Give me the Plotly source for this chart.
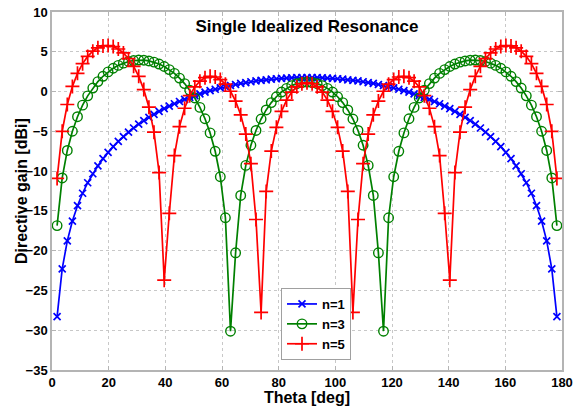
import plotly.graph_objects as go

# Theta samples [deg]
theta = [1.8, 3.6, 5.4, 7.2, 9.0, 10.8, 12.6, 14.4, 16.2, 18.0,
         19.8, 21.6, 23.4, 25.2, 27.0, 28.8, 30.6, 32.4, 34.2, 36.0,
         37.8, 39.6, 41.4, 43.2, 45.0, 46.8, 48.6, 50.4, 52.2, 54.0,
         55.8, 57.6, 59.4, 61.2, 63.0, 64.8, 66.6, 68.4, 70.2, 72.0,
         73.8, 75.6, 77.4, 79.2, 81.0, 82.8, 84.6, 86.4, 88.2, 90.0,
         91.8, 93.6, 95.4, 97.2, 99.0, 100.8, 102.6, 104.4, 106.2, 108.0,
         109.8, 111.6, 113.4, 115.2, 117.0, 118.8, 120.6, 122.4, 124.2, 126.0,
         127.8, 129.6, 131.4, 133.2, 135.0, 136.8, 138.6, 140.4, 142.2, 144.0,
         145.8, 147.6, 149.4, 151.2, 153.0, 154.8, 156.6, 158.4, 160.2, 162.0,
         163.8, 165.6, 167.4, 169.2, 171.0, 172.8, 174.6, 176.4, 178.2]

gain_n1 = [-28.30, -22.28, -18.77, -16.28, -14.35, -12.78, -11.46, -10.33, -9.33, -8.44,
           -7.64, -6.92, -6.26, -5.66, -5.10, -4.58, -4.10, -3.66, -3.24, -2.86,
           -2.49, -2.15, -1.83, -1.53, -1.25, -0.99, -0.74, -0.50, -0.29, -0.08,
           0.11, 0.29, 0.46, 0.61, 0.76, 0.89, 1.02, 1.13, 1.23, 1.33,
           1.41, 1.48, 1.55, 1.61, 1.65, 1.69, 1.72, 1.74, 1.76, 1.76,
           1.76, 1.74, 1.72, 1.69, 1.65, 1.61, 1.55, 1.48, 1.41, 1.33,
           1.23, 1.13, 1.02, 0.89, 0.76, 0.61, 0.46, 0.29, 0.11, -0.08,
           -0.29, -0.50, -0.74, -0.99, -1.25, -1.53, -1.83, -2.15, -2.49, -2.86,
           -3.24, -3.66, -4.10, -4.58, -5.10, -5.66, -6.26, -6.92, -7.64, -8.44,
           -9.33, -10.33, -11.46, -12.78, -14.35, -16.28, -18.77, -22.28, -28.30]

gain_n3 = [-16.85, -10.86, -7.40, -4.99, -3.16, -1.71, -0.54, 0.44, 1.25, 1.92,
           2.47, 2.93, 3.29, 3.57, 3.78, 3.90, 3.96, 3.94, 3.85, 3.70,
           3.46, 3.15, 2.76, 2.28, 1.69, 1.00, 0.17, -0.81, -1.99, -3.42,
           -5.20, -7.51, -10.71, -15.86, -30.12, -20.27, -13.06, -9.28, -6.75, -4.89,
           -3.45, -2.31, -1.39, -0.65, -0.06, 0.40, 0.75, 0.99, 1.13, 1.18,
           1.13, 0.99, 0.75, 0.40, -0.06, -0.65, -1.39, -2.31, -3.45, -4.89,
           -6.75, -9.28, -13.06, -20.27, -30.12, -15.86, -10.71, -7.51, -5.20, -3.42,
           -1.99, -0.81, 0.17, 1.00, 1.69, 2.28, 2.76, 3.15, 3.46, 3.70,
           3.85, 3.94, 3.96, 3.90, 3.78, 3.57, 3.29, 2.93, 2.47, 1.92,
           1.25, 0.44, -0.54, -1.71, -3.16, -4.99, -7.40, -10.86, -16.85]

gain_n5 = [-10.92, -5.00, -1.63, 0.64, 2.29, 3.51, 4.42, 5.07, 5.50, 5.74,
           5.79, 5.66, 5.35, 4.85, 4.13, 3.17, 1.91, 0.25, -1.96, -5.10,
           -10.18, -23.71, -15.30, -8.05, -4.41, -2.10, -0.52, 0.58, 1.31, 1.74,
           1.91, 1.83, 1.51, 0.93, 0.04, -1.20, -2.92, -5.35, -9.06, -16.08,
           -27.76, -12.55, -7.48, -4.50, -2.48, -1.07, -0.07, 0.60, 0.98, 1.10,
           0.98, 0.60, -0.07, -1.07, -2.48, -4.50, -7.48, -12.55, -27.76, -16.08,
           -9.06, -5.35, -2.92, -1.20, 0.04, 0.93, 1.51, 1.83, 1.91, 1.74,
           1.31, 0.58, -0.52, -2.10, -4.41, -8.05, -15.30, -23.71, -10.18, -5.10,
           -1.96, 0.25, 1.91, 3.17, 4.13, 4.85, 5.35, 5.66, 5.79, 5.74,
           5.50, 5.07, 4.42, 3.51, 2.29, 0.64, -1.63, -5.00, -10.92]

x_ticks = [0, 20, 40, 60, 80, 100, 120, 140, 160, 180]
y_ticks = [-35, -30, -25, -20, -15, -10, -5, 0, 5, 10]

FONT = "Liberation Sans, Arial, sans-serif"
AXC = "#b4b4b4"

fig = go.Figure()
fig.add_trace(go.Scatter(x=theta, y=gain_n1, mode="lines+markers", name="n=1",
                         line=dict(color="#0000ff", width=1.7),
                         marker=dict(symbol="x-thin-open", size=7,
                                     line=dict(color="#0000ff", width=1.7))))
fig.add_trace(go.Scatter(x=theta, y=gain_n3, mode="lines+markers", name="n=3",
                         line=dict(color="#008000", width=1.7),
                         marker=dict(symbol="circle-open", size=9.5, color="#008000",
                                     line=dict(color="#008000", width=1.4))))
fig.add_trace(go.Scatter(x=theta, y=gain_n5, mode="lines+markers", name="n=5",
                         line=dict(color="#ff0000", width=1.7),
                         marker=dict(symbol="cross-thin-open", size=10,
                                     line=dict(color="#ff0000", width=1.7))))

axis_common = dict(
    showgrid=True, gridcolor="#c8c8c8", griddash="dot", gridwidth=1,
    zeroline=False, showline=True, linecolor=AXC, linewidth=1.5,
    mirror="ticks", ticks="inside", ticklen=4, tickcolor=AXC, tickwidth=1,
    automargin=False,
    tickfont=dict(family=FONT, size=13, color="black", weight="bold"),
)

fig.update_layout(
    width=582, height=406,
    margin=dict(l=52, r=20, t=12, b=36),
    paper_bgcolor="white", plot_bgcolor="white",
    showlegend=True,
    title=dict(text="Single Idealized Resonance", x=0.5, xref="paper",
               xanchor="center", y=1 - 26 / 406, yref="container", yanchor="middle",
               font=dict(family=FONT, size=17, color="black", weight="bold")),
    xaxis=dict(range=[0, 180], tickvals=x_ticks,
               title=dict(text="Theta [deg]", standoff=4,
                          font=dict(family=FONT, size=16, color="black", weight="bold")),
               **axis_common),
    yaxis=dict(range=[-35, 10], tickvals=y_ticks, **axis_common),
    annotations=[dict(text="Directive gain [dBi]", textangle=-90, showarrow=False,
                      xref="paper", yref="paper", x=(21 - 52) / 510, y=0.5,
                      xanchor="center", yanchor="middle",
                      font=dict(family=FONT, size=16, color="black", weight="bold"))],
    legend=dict(x=(281 - 52) / 510, y=1 - (288 - 12) / 358, xanchor="left", yanchor="top",
                bgcolor="white", bordercolor="#a0a0a0", borderwidth=1,
                font=dict(family=FONT, size=13, color="black", weight="bold"),
                itemwidth=30, tracegroupgap=0),
)

fig.write_html("out.html")
